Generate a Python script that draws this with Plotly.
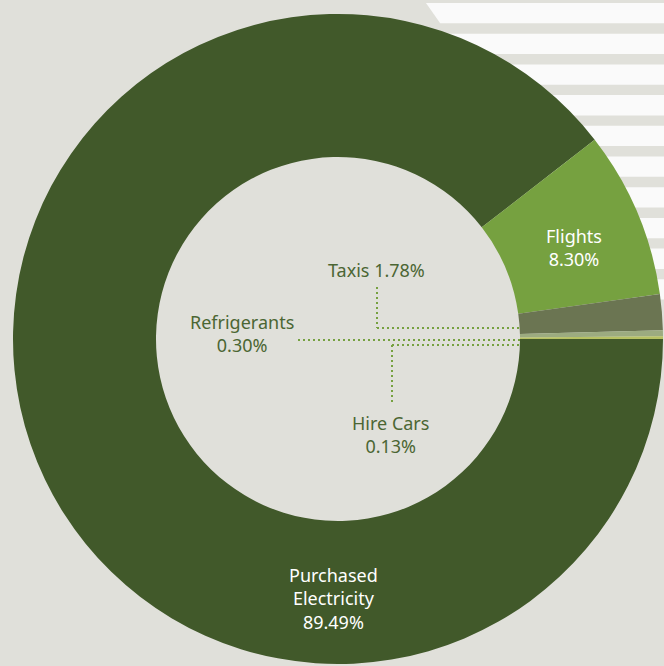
import plotly.graph_objects as go

# ---- data ----
labels = ["Purchased Electricity", "Flights", "Taxis", "Refrigerants", "Hire Cars"]
values = [89.49, 8.30, 1.78, 0.30, 0.13]
colors = ["#41592a", "#76a140", "#6b7552", "#9cab80", "#b6c163"]

W, H = 664, 666
BG = "#e0e0da"
TXT = "#4b6633"
LEAD = "#76a140"


def px(x):
    return x / W


def py(y):
    return 1 - y / H


fig = go.Figure(go.Pie(
    labels=labels,
    values=values,
    marker=dict(colors=colors, line=dict(width=0)),
    hole=0.56,
    sort=False,
    direction="clockwise",
    rotation=90,
    textinfo="none",
    hoverinfo="label+percent",
    showlegend=False,
    domain=dict(x=[px(13), px(663)], y=[py(664), py(14)]),
))

shapes = []
# decorative white stripes (top-right background)
for k in range(10):
    y0 = 3 + 30.7 * k
    y1 = y0 + 20.3
    xa = 426 + 0.7 * (y0 - 3)
    xb = 426 + 0.7 * (y1 - 3)
    path = (f"M {px(xa)},{py(y0)} L {px(W)},{py(y0)} L {px(W)},{py(y1)} "
            f"L {px(xb)},{py(y1)} Z")
    shapes.append(dict(type="path", path=path, xref="paper", yref="paper",
                       fillcolor="#fafafa", line=dict(width=0), layer="below"))

# leader lines
dot = dict(color=LEAD, width=2, dash="2px,3px")
segs = [
    (377, 287, 377, 328), (377, 328, 521, 328),   # Taxis
    (298, 340, 521, 340),                         # Refrigerants
    (392, 345, 521, 345), (392, 345, 392, 403),   # Hire Cars
]
for x0, y0, x1, y1 in segs:
    shapes.append(dict(type="line", xref="paper", yref="paper",
                       x0=px(x0), y0=py(y0), x1=px(x1), y1=py(y1), line=dot))


def pct(v):
    return f"{v:.2f}%"


FONT = "Noto Sans"
FS = 18
ann = []
ann.append(dict(text=f"{labels[2]} {pct(values[2])}", x=px(377), y=py(270),
                font=dict(color=TXT)))
ann.append(dict(text=f"{labels[3]}<br>{pct(values[3])}", x=px(242), y=py(333.5),
                font=dict(color=TXT)))
ann.append(dict(text=f"{labels[4]}<br>{pct(values[4])}", x=px(390), y=py(434.5),
                font=dict(color=TXT)))
ann.append(dict(text=f"{labels[1]}<br>{pct(values[1])}", x=px(574), y=py(247),
                font=dict(color="white")))
ann.append(dict(text="Purchased<br>Electricity<br>" + pct(values[0]), x=px(333), y=py(598),
                font=dict(color="white")))
for a in ann:
    a.update(xref="paper", yref="paper", showarrow=False, xanchor="center",
             yanchor="middle", align="center")
    a["font"].update(family=FONT, size=FS)

fig.update_layout(
    width=W, height=H,
    margin=dict(l=0, r=0, t=0, b=0),
    paper_bgcolor=BG, plot_bgcolor=BG,
    shapes=shapes, annotations=ann,
)
fig.write_html("out.html",
               config={"displayModeBar": False},
               post_script="document.body.style.margin='0px';"
                           "document.body.style.background='" + BG + "';")
